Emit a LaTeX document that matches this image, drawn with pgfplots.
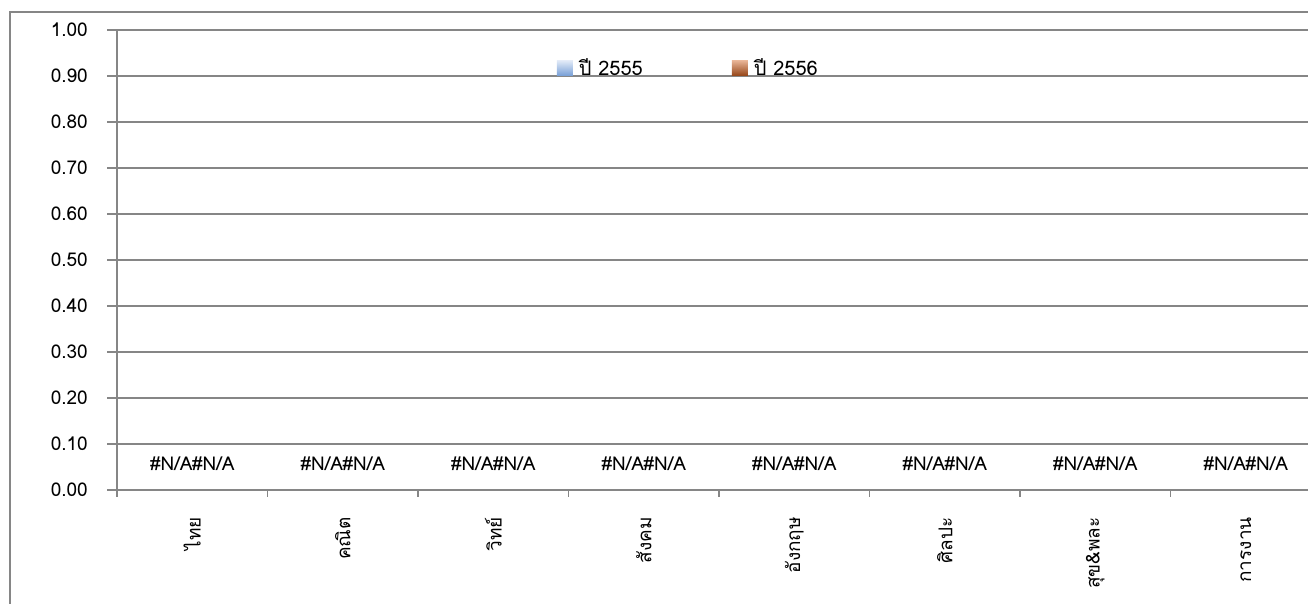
\documentclass[border=0pt]{standalone}
\usepackage{fontspec}
\setmainfont[Script=Thai]{Loma}
\usepackage{pgfplots}
\pgfplotsset{compat=1.18}

\definecolor{linegray}{RGB}{134,134,134}
\definecolor{blueTop}{RGB}{226,234,247}
\definecolor{blueBot}{RGB}{120,160,215}
\definecolor{brownTop}{RGB}{232,180,150}
\definecolor{brownBot}{RGB}{150,70,25}

\begin{document}
\fontsize{19}{22}\selectfont
\begin{tikzpicture}
\useasboundingbox (0pt,0pt) rectangle (1308pt,604pt);
\clip (0pt,0pt) rectangle (1308pt,604pt);
% chart frame (cut at the right and bottom, as in the reference)
\draw[linegray, line width=2.5pt] (10pt,-20pt) rectangle (1330pt,592pt);
\begin{axis}[
  at={(117pt,114pt)}, anchor=south west,
  scale only axis, width=1204pt, height=460pt,
  xmin=-0.5, xmax=7.5, ymin=0, ymax=1,
  axis lines*=left,
  axis line style={linegray, line width=1.5pt, -},
  ymajorgrids, major grid style={linegray, line width=1.5pt},
  tick align=outside,
  major tick length=10pt, minor tick length=7pt,
  tick style={linegray, line width=1.5pt},
  ytick distance=0.1,
  yticklabel style={inner sep=0pt, text=black,
    /pgf/number format/.cd, fixed, fixed zerofill, precision=2, assume math mode=true},
  yticklabel shift=19pt,
  xtick={0,...,7},
  major x tick style={draw=none},
  minor xtick={-0.5,0.5,...,7.5},
  xticklabels={ไทย,คณิต,วิทย์,สังคม,อังกฤษ,ศิลปะ,สุข\&พละ,การงาน},
  xticklabel style={rotate=90, anchor=east, inner sep=0pt, text=black},
  xticklabel shift=17pt,
  legend style={at={(0.3654,0.9174)}, anchor=west, draw=none, fill=none,
    inner sep=0pt, outer sep=0pt, legend columns=2,
    font=\fontsize{20}{23}\selectfont,
    nodes={inner sep=0pt}, cells={anchor=west},
    /tikz/every even column/.append style={column sep=89pt}},
]
\addplot[ybar, draw=none, fill=none, bar width=42pt, bar shift=-21pt,
  nodes near coords={\#N/A},
  every node near coord/.append style={anchor=base, xshift=-21pt, yshift=19pt, inner sep=0pt, text=black},
  legend image code/.code={
    \fill[top color=blueTop, bottom color=blueBot] (0pt,-7.5pt) rectangle (16pt,7.5pt);
    \path (0pt,0pt) -- (22pt,0pt);}]
  coordinates {(0,0) (1,0) (2,0) (3,0) (4,0) (5,0) (6,0) (7,0)};
\addlegendentry{ปี 2555}
\addplot[ybar, draw=none, fill=none, bar width=42pt, bar shift=21pt,
  nodes near coords={\#N/A},
  every node near coord/.append style={anchor=base, xshift=21pt, yshift=19pt, inner sep=0pt, text=black},
  legend image code/.code={
    \fill[top color=brownTop, bottom color=brownBot] (0pt,-7.5pt) rectangle (16pt,7.5pt);
    \path (0pt,0pt) -- (22pt,0pt);}]
  coordinates {(0,0) (1,0) (2,0) (3,0) (4,0) (5,0) (6,0) (7,0)};
\addlegendentry{ปี 2556}
\end{axis}
\end{tikzpicture}
\end{document}
